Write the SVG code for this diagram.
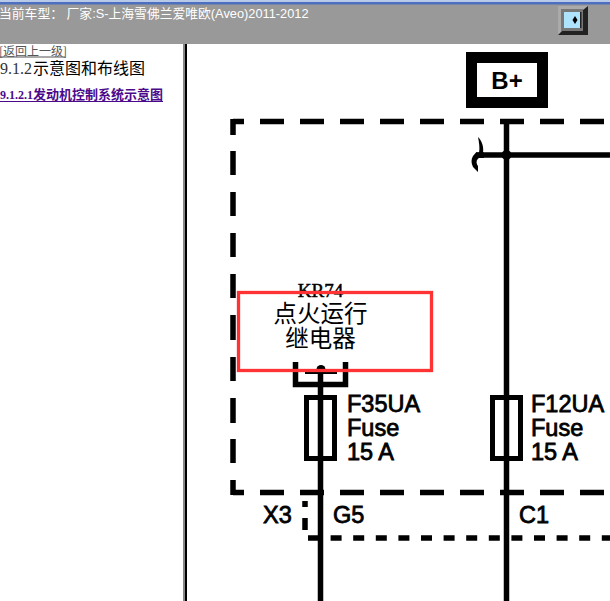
<svg xmlns="http://www.w3.org/2000/svg" width="610" height="601" viewBox="0 0 610 601">
<style>
.s{font-family:"Liberation Sans",Arial,"Noto Sans CJK SC",sans-serif}
.c{font-family:"Noto Sans CJK SC",sans-serif}
.t{font-family:"Liberation Serif","Noto Sans CJK SC",serif}
.lbl{font-family:"Liberation Sans",Arial,sans-serif;font-size:23.5px;stroke:#000;stroke-width:.8}
.w{fill:none;stroke:#000;stroke-width:5.500}
.d{fill:none;stroke:#000;stroke-width:5.500}
</style>
<rect width="610" height="601" fill="#fff"/>
<g id="toolbar">
<rect width="610" height="44" fill="#999"/>
<rect width="610" height="2" fill="#b9c9e8"/>
<rect y="2" width="610" height="2.500" fill="#4d6fc0"/>
<text class="s" x="-1" y="17.500" font-size="12.800" fill="#fff">当前车型： 厂家:S-上海雪佛兰爱唯欧(Aveo)2011-2012</text>
<rect x="558" y="6" width="30" height="29" fill="#aaa"/>
<path d="M558 35H588V6L583 10V31H562Z" fill="#222"/>
<rect x="561" y="9" width="22" height="22" fill="#777"/>
<rect x="564" y="12" width="17" height="16" fill="#aee4fb"/>
<rect x="580" y="12" width="1.500" height="16" fill="#222"/>
<path d="M575 16L577.500 20L575 24L572.500 20Z" fill="#000"/>
</g>
<g id="sidebar">
<rect x="185" y="44" width="2" height="557" fill="#000"/>
<rect x="183" y="44" width="2" height="557" fill="#888"/>
<text class="c" x="-1" y="56" font-size="12" fill="#555">[返回上一级]</text>
<path d="M0 57H65" stroke="#555" fill="none"/>
<text class="t" x="0" y="74" font-size="16" fill="#000"><tspan fill="#333">9.1.2</tspan><tspan x="33">示意图和布线图</tspan></text>
<text class="t" x="0" y="99" font-size="12" font-weight="bold" fill="#4b0a8c">9.1.2.1<tspan x="33" font-size="13">发动机控制系统示意图</tspan></text>
<path d="M0 101.500H163" stroke="#4b0a8c" fill="none"/>
</g>
<g id="connectors">
<path class="d" d="M644 121.500H233" stroke-dasharray="24 16"/>
<path class="d" d="M233 119V135M233 151V175M233 192V216M233 233V257M233 274V298M233 315V340M233 357V381M233 398V423M233 439V463M233 480V495"/>
<path class="d" d="M644 492.500H233" stroke-dasharray="24 16"/>
<path class="w" d="M506.500 124V601"/>
<path class="w" d="M476 155H610"/>
<circle cx="506.500" cy="155" r="5"/>
<path d="M478 137C482 141 484 147 483 153H479C480 148 479 142 478 137Z"/>
<path d="M476 152.500H484V158H479C476 160 476 163 478 166V172L473 167C471 163 471 159 473 156Z"/>
<path class="w" d="M320.500 372V601"/>
<path class="w" d="M295.500 362V384.500H345.500V362"/>
<path d="M305 369H337V374H305Z"/>
<circle cx="321" cy="369.500" r="4.500"/>
<path class="d" d="M305 501V507M305 518V530"/>
<path class="d" d="M308 538H610" stroke-dasharray="11 11.600"/>
</g>
<g id="B-plus">
<rect x="471.500" y="57.500" width="71" height="45" fill="#fff" stroke="#000" stroke-width="11"/>
<text class="s" x="507" y="89" font-size="24" font-weight="bold" text-anchor="middle">B+</text>
</g>
<g id="KR74">
<text class="t" x="320.500" y="297" font-size="19" text-anchor="middle" stroke="#000" stroke-width=".5">KR74</text>
<text class="c" x="320.500" y="322" font-size="23.500" text-anchor="middle">点火运行</text>
<text class="c" x="320.500" y="347" font-size="23.500" text-anchor="middle">继电器</text>
<rect x="238.500" y="292.500" width="193" height="78" fill="none" stroke="#f33" stroke-width="3.300"/>
</g>
<g id="F35UA">
<rect x="306.500" y="397.500" width="28" height="61" fill="none" stroke="#000" stroke-width="5"/>
<text class="lbl" x="347" y="412">F35UA</text>
<text class="lbl" x="347" y="436">Fuse</text>
<text class="lbl" x="347" y="460">15 A</text>
</g>
<g id="F12UA">
<rect x="492.500" y="397.500" width="28" height="61" fill="none" stroke="#000" stroke-width="5"/>
<text class="lbl" x="531" y="412">F12UA</text>
<text class="lbl" x="531" y="436">Fuse</text>
<text class="lbl" x="531" y="460">15 A</text>
</g>
<g id="connector-labels">
<text class="lbl" x="263" y="523">X3</text>
<text class="lbl" x="333" y="523">G5</text>
<text class="lbl" x="519" y="523">C1</text>
</g>
</svg>
